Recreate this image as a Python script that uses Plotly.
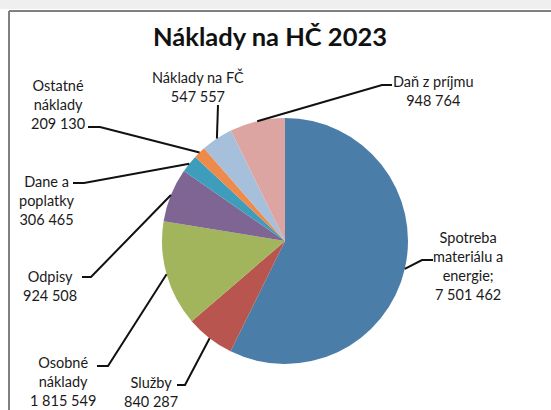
import math
import plotly.graph_objects as go

# ---- data ----
categories = ["Spotreba materiálu a energie", "Služby", "Osobné náklady", "Odpisy",
              "Dane a poplatky", "Ostatné náklady", "Náklady na FČ", "Daň z príjmu"]
values = [7501462, 840287, 1815549, 924508, 306465, 209130, 547557, 948764]
label_texts = ["Spotreba<br>materiálu a<br>energie;<br>7 501 462",
               "Služby<br>840 287",
               "Osobné<br>náklady<br>1 815 549",
               "Odpisy<br>924 508",
               "Dane a<br>poplatky<br>306 465",
               "Ostatné<br>náklady<br>209 130",
               "Náklady na FČ<br>547 557",
               "Daň z príjmu<br>948 764"]
colors = ["#4B7DA9", "#B9554F", "#A2B55C", "#7F6594", "#3E9DBB", "#EE8A4C", "#A6C0DC", "#DDA5A2"]

W, H = 551, 410
# pie placement (pixels)
CX, CY, R = 285, 241, 123

def px(x):
    return x / W

def py(y):
    return 1 - y / H

# label centres and leader elbows (pixels)
label_pos = [(468, 266), (151, 392), (63, 381), (50, 286), (47, 200), (58, 104), (198, 87), (433, 91)]
elbows = [[(433, 260), (422, 260)],
          [(177, 385), (185, 385)],
          [(97, 366), (108, 366)],
          [(82, 277), (91, 277)],
          [(73, 183), (84, 183)],
          [(88, 127), (100, 127)],
          [(218, 105)],
          [(392, 85), (382, 85)]]

fig = go.Figure(go.Pie(
    labels=categories, values=values, sort=False, direction="clockwise", rotation=0,
    marker=dict(colors=colors, line=dict(width=0)),
    textinfo="none", hoverinfo="label+value", showlegend=False,
    domain=dict(x=[px(CX - R), px(CX + R)], y=[py(CY + R), py(CY - R)]),
))

total = sum(values)
shapes = []
annotations = []
cum = 0
for i, v in enumerate(values):
    theta = 2 * math.pi * (cum + v / 2) / total
    cum += v
    ex = CX + R * math.sin(theta)
    ey = CY - R * math.cos(theta)
    pts = elbows[i] + [(ex, ey)]
    path = "M " + " L ".join(f"{px(x):.5f},{py(y):.5f}" for x, y in pts)
    shapes.append(dict(type="path", xref="paper", yref="paper", path=path,
                       line=dict(color="#111111", width=2)))
    lx, ly = label_pos[i]
    annotations.append(dict(x=px(lx), y=py(ly), xref="paper", yref="paper",
                            text=label_texts[i], showarrow=False, xanchor="center",
                            yanchor="middle", align="center",
                            font=dict(family="Lato", size=14.5, color="#1a1a1a")))

annotations.append(dict(x=px(270), y=py(36), xref="paper", yref="paper",
                        text="<b>Náklady na HČ 2023</b>", showarrow=False,
                        xanchor="center", yanchor="middle",
                        font=dict(family="Lato", size=25.5, color="#111111")))

# scan frame
shapes.append(dict(type="rect", xref="paper", yref="paper", x0=0, x1=1, y0=py(9), y1=1,
                   fillcolor="#efefef", line=dict(width=0), layer="below"))
shapes.append(dict(type="line", xref="paper", yref="paper", x0=px(9), x1=1, y0=py(11), y1=py(11),
                   line=dict(color="#808080", width=2)))
shapes.append(dict(type="line", xref="paper", yref="paper", x0=px(9), x1=px(9), y0=0, y1=py(11),
                   line=dict(color="#808080", width=2)))

fig.update_layout(width=W, height=H, margin=dict(l=0, r=0, t=0, b=0),
                  paper_bgcolor="white", plot_bgcolor="white",
                  shapes=shapes, annotations=annotations)

fig.write_html("out.html", config={"displayModeBar": False},
               post_script="document.body.style.margin='0';document.body.style.overflow='hidden';")
